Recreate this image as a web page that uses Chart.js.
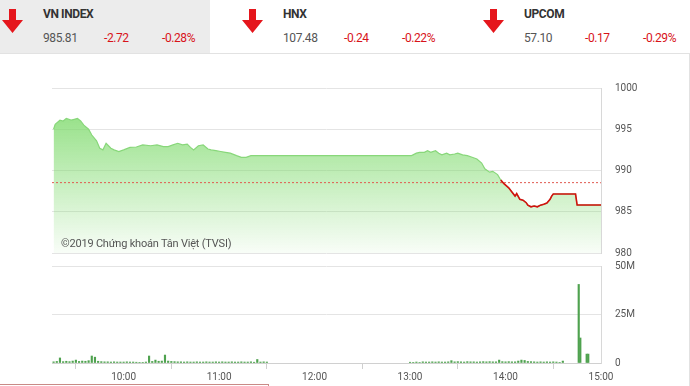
<!DOCTYPE html>
<html>
<head>
<meta charset="utf-8">
<script src="https://cdn.jsdelivr.net/npm/chart.js@4.4.0/dist/chart.umd.min.js"></script>
<style>
  body { margin: 0; width: 690px; height: 386px; overflow: hidden; background: #fff; font-family: Roboto, "Liberation Sans", sans-serif; position: relative; }
  .tab-active { position: absolute; left: 0; top: 0; width: 210px; height: 53px; background: #ececec; }
  .box { position: absolute; left: -1px; top: 53px; width: 689px; height: 340px; border: 1px solid #e2e2e2; }
  .lbl { position: absolute; font-size: 12px; white-space: nowrap; letter-spacing: -0.4px; }
  .name { font-weight: bold; color: #333; top: 7px; }
  .val { color: #555; top: 31px; }
  .chg { color: #d8131a; top: 31px; }
  .arrow { position: absolute; top: 9px; width: 21px; height: 24px; }
  #price { position: absolute; left: 0; top: 53px; }
  #volume { position: absolute; left: 0; top: 258px; }
  .credit { position: absolute; left: 61px; top: 237px; font-size: 11px; color: #555; letter-spacing: -0.2px; }
  .redbox { position: absolute; left: -1px; top: 384px; width: 268px; height: 10px; border: 1px solid #c98a86; }
</style>
</head>
<body>
<div class="tab-active"></div>
<div class="box"></div>

<div id="header"></div>

<canvas id="price" width="690" height="206"></canvas>
<canvas id="volume" width="690" height="128"></canvas>
<div class="credit">©2019 Chứng khoán Tân Việt (TVSI)</div>
<div class="redbox"></div>

<script>
// Index summary
const indexNames = ["VN INDEX", "HNX", "UPCOM"];
const indexValues = ["985.81", "107.48", "57.10"];
const indexChanges = ["-2.72", "-0.24", "-0.17"];
const indexPercents = ["-0.28%", "-0.22%", "-0.29%"];

// VN-Index intraday (time, points)
const priceTimes = ["09:16","09:17","09:20","09:22","09:24","09:27","09:29","09:31","09:33","09:35",
  "09:38","09:40","09:43","09:45","09:47","09:49","09:52","09:54","09:57","10:00",
  "10:04","10:08","10:12","10:17","10:21","10:25","10:28","10:31","10:34","10:37",
  "10:40","10:42","10:44","10:47","10:50","10:53","10:55","10:58","11:01","11:04",
  "11:07","11:11","11:14","11:17","11:20","11:25","11:30","13:00","13:01","13:04",
  "13:06","13:09","13:11","13:13","13:16","13:18","13:20","13:23","13:25","13:28",
  "13:30","13:33","13:36","13:39","13:42","13:45","13:47","13:50","13:52","13:55",
  "13:57","13:59","14:02","14:04","14:06","14:07","14:09","14:11","14:13","14:14",
  "14:16","14:18","14:20","14:22","14:24","14:26","14:28","14:29","14:30","14:44",
  "14:45","15:00"];
const priceValues = [995.0,995.6,996.1,996.0,996.3,996.1,996.2,996.3,996.0,995.5,
  995.0,994.3,993.6,992.7,992.5,993.3,992.7,992.5,992.3,992.5,
  992.8,992.85,993.1,993.0,993.1,992.9,992.9,993.1,993.3,993.1,
  993.2,992.8,992.5,993.0,993.1,992.6,992.5,992.4,992.3,992.2,
  992.1,991.8,991.6,991.6,991.8,991.8,991.8,991.8,991.8,992.1,
  992.2,992.2,992.4,992.2,992.4,992.1,991.9,992.1,991.9,992.0,
  992.1,991.9,991.8,991.6,991.4,990.9,990.2,989.8,989.9,989.5,
  988.85,988.4,987.9,987.4,986.9,987.2,986.5,986.4,986.1,985.8,
  985.6,985.7,985.6,985.8,985.9,986.05,986.5,986.9,987.15,987.15,
  985.81,985.81];
const refPrice = 988.53;

// Volume, 2-minute slots (millions of shares)
const morningStart = "09:16";
const morningVolumes = [0.6,0.8,2.6,0.7,0.9,0.7,1.0,1.5,0.8,1.0,
  0.9,1.2,3.6,3.0,0.9,0.7,0.6,0.6,0.5,0.6,
  0.5,0.5,0.5,0.6,0.5,0.5,0.4,0.2,0.2,0.5,
  3.6,0.8,1.5,0.9,1.0,4.1,1.0,0.8,0.7,0.6,
  0.6,0.5,0.6,0.5,0.5,0.6,0.5,0.5,0.6,0.5,
  0.5,0.6,0.5,0.6,0.5,0.5,0.6,0.5,0.5,0.6,
  0.5,0.5,0.6,0.4,1.8,0.5,0.6,0.5];
const afternoonStart = "13:00";
const afternoonVolumes = [0.4,0.2,0.5,0.3,0.6,0.5,0.5,0.6,0.5,0.6,
  0.5,0.5,0.6,1.2,0.6,0.7,0.6,0.5,0.7,0.6,
  0.6,0.5,0.6,0.7,0.6,0.7,0.6,0.6,1.5,0.7,
  0.6,0.7,0.6,0.6,1.0,1.5,1.3,0.8,0.7,0.6,
  0.5,0.6,0.5,0.6,0.5,0.6,0.5,0.2,1.0];
const closingTimes = ["14:46","14:47","14:51","14:52"];
const closingVolumes = [40.5,12.9,4.6,4.6];

const xTickTimes = ["10:00","11:00","12:00","13:00","14:00","15:00"];
const yPriceTicks = [980, 985, 990, 995, 1000];
const yVolumeTicks = [0, 25, 50];

const toMin = s => { const p = s.split(":"); return +p[0] * 60 + +p[1]; };
const toLabel = m => Math.floor(m / 60) + ":" + String(m % 60).padStart(2, "0");

// header
const header = document.getElementById("header");
const colX = [0, 240, 481];
let html = "";
indexNames.forEach((n, i) => {
  const x = colX[i];
  html += `<svg class="arrow" style="left:${x + 2}px" viewBox="0 0 21 24"><path d="M7 0 H14 V11 H21 L10.5 24 L0 11 H7 Z" fill="#e5161c"/></svg>`;
  html += `<span class="lbl name" style="left:${x + 43}px">${n}</span>`;
  html += `<span class="lbl val" style="left:${x + 43}px">${indexValues[i]}</span>`;
  html += `<span class="lbl chg" style="left:${x + 104}px">${indexChanges[i]}</span>`;
  html += `<span class="lbl chg" style="left:${x + 162}px">${indexPercents[i]}</span>`;
});
header.innerHTML = html;

// Price chart

const pricePoints = priceTimes.map((t, i) => ({ x: toMin(t), y: priceValues[i] }));
const xMin = toMin("09:15"), xMax = toMin("15:00");

// red part of the line starts at the last point above the reference
const firstBelow = priceValues.findIndex(v => v < refPrice);
const redPoints = pricePoints.slice(firstBelow - 1);

const greenFill = ctx => {
  const a = ctx.chart.chartArea;
  if (!a) return 'rgba(128,220,112,0.5)';
  const g = ctx.chart.ctx.createLinearGradient(0, a.top, 0, a.bottom);
  g.addColorStop(0, 'rgba(126,218,108,0.95)');
  g.addColorStop(0.45, 'rgba(126,218,108,0.55)');
  g.addColorStop(1, 'rgba(126,218,108,0.05)');
  return g;
};

// right-hand axis: labels pushed out with an invisible tick so the vertical padding stays small
const rightAxis = (min, max, ticks, fmt) => ({
  position: 'right',
  min: min,
  max: max,
  afterFit: s => { s.width = 89; },
  afterBuildTicks: ax => { ax.ticks = ticks.map(v => ({ value: v })); },
  ticks: { padding: 0, callback: fmt, color: '#555', font: { size: 10, family: 'Roboto' } },
  grid: { color: '#e4e4e4', drawTicks: true, tickLength: 14, tickColor: 'rgba(0,0,0,0)' },
  border: { display: true, color: '#d8d8d8' }
});

new Chart(document.getElementById("price"), {
  type: 'line',
  data: {
    datasets: [{
      data: redPoints,
      borderColor: '#d40f0f',
      borderWidth: 1.6,
      pointRadius: 0,
      tension: 0,
      fill: false
    }, {
      data: [{ x: xMin, y: refPrice }, { x: xMax, y: refPrice }],
      borderColor: '#e05a50',
      borderWidth: 1,
      borderDash: [2, 2],
      pointRadius: 0,
      fill: false
    }, {
      data: pricePoints,
      borderColor: '#88d77a',
      borderWidth: 1.2,
      pointRadius: 0,
      tension: 0,
      fill: 'start',
      backgroundColor: greenFill
    }]
  },
  options: {
    responsive: false,
    animation: false,
    layout: { padding: { left: 52, top: 35, bottom: 0, right: 0 } },
    plugins: { legend: { display: false }, tooltip: { enabled: false } },
    scales: {
      x: { type: 'linear', min: xMin, max: xMax, display: false },
      y: rightAxis(980, 1000, yPriceTicks, v => String(v))
    }
  }
});

// Volume chart

const volumePoints = [];
morningVolumes.forEach((v, i) => volumePoints.push({ x: toMin(morningStart) + i * 2, y: v * 1e6 }));
afternoonVolumes.forEach((v, i) => volumePoints.push({ x: toMin(afternoonStart) + i * 2, y: v * 1e6 }));
closingTimes.forEach((t, i) => volumePoints.push({ x: toMin(t), y: closingVolumes[i] * 1e6 }));

new Chart(document.getElementById("volume"), {
  type: 'bar',
  data: {
    datasets: [{
      data: volumePoints,
      backgroundColor: '#4fa24f',
      barThickness: 1.5,
      grouped: false
    }]
  },
  options: {
    responsive: false,
    animation: false,
    layout: { padding: { left: 52, top: 8, bottom: 0, right: 0 } },
    plugins: { legend: { display: false }, tooltip: { enabled: false } },
    scales: {
      x: {
        type: 'linear',
        min: xMin,
        max: xMax,
        offset: false,
        afterBuildTicks: ax => { ax.ticks = xTickTimes.map(t => ({ value: toMin(t) })); },
        afterFit: s => { s.height = 23; },
        ticks: { callback: v => toLabel(v), color: '#555', font: { size: 10, family: 'Roboto' }, padding: 2, maxRotation: 0, autoSkip: false },
        grid: { drawOnChartArea: false, tickLength: 6, color: '#cfcfcf' },
        border: { color: '#d0d0d0' }
      },
      y: rightAxis(0, 50e6, yVolumeTicks.map(v => v * 1e6), v => v === 0 ? '0' : (v / 1e6) + 'M')
    }
  }
});
</script>
</body>
</html>
